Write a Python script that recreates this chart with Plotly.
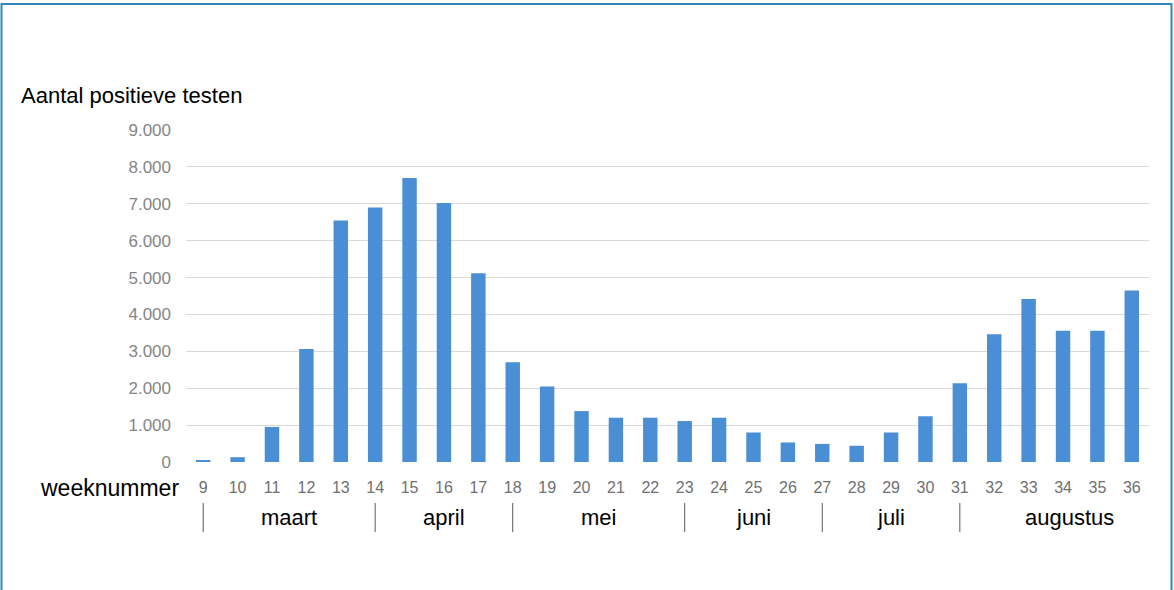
import plotly.graph_objects as go

weeks = list(range(9, 37))
positives = [50, 130, 950, 3060, 6550, 6900, 7700, 7020, 5120, 2705, 2050, 1380,
             1200, 1200, 1110, 1200, 800, 530, 490, 440, 800, 1240, 2135, 3465,
             4420, 3560, 3560, 4650]
y_ticks = [0, 1000, 2000, 3000, 4000, 5000, 6000, 7000, 8000, 9000]
y_tick_labels = ["0", "1.000", "2.000", "3.000", "4.000", "5.000", "6.000",
                 "7.000", "8.000", "9.000"]
months = ["maart", "april", "mei", "juni", "juli", "augustus"]
month_centers = [11.5, 16, 20.5, 25, 29, 34.2]
month_starts = [9, 14, 18, 23, 27, 31]

W, H = 1174, 590
L, R, T, B = 186, 25, 130, 128
PW, PH = W - L - R, H - T - B


def px(xp):
    return (xp - L) / PW


def py(yp):
    return (H - B - yp) / PH


fig = go.Figure()
fig.add_trace(go.Bar(x=weeks, y=positives, marker=dict(color="#4a8fd6", line=dict(width=0)),
                     hoverinfo="x+y"))

shapes = []
# outer frame
shapes.append(dict(type="rect", xref="paper", yref="paper",
                   x0=px(1.5), x1=px(1171.5), y0=py(600), y1=py(4),
                   line=dict(color="#2f87bd", width=2), fillcolor="rgba(0,0,0,0)", layer="below"))
for m in month_starts:
    shapes.append(dict(type="line", xref="x", yref="paper", x0=m, x1=m,
                       y0=py(532), y1=py(503), line=dict(color="#595959", width=1)))

annotations = [
    dict(text="Aantal positieve testen", xref="paper", yref="paper", x=px(19), y=py(95),
         xanchor="left", yanchor="middle", showarrow=False,
         font=dict(family="Liberation Sans, Arial", size=22, color="#000000")),
    dict(text="weeknummer", xref="paper", yref="paper", x=px(181), y=py(488),
         xanchor="right", yanchor="middle", showarrow=False,
         font=dict(family="Liberation Sans, Arial", size=23, color="#000000")),
]
for name, c in zip(months, month_centers):
    annotations.append(dict(text=name, xref="x", yref="paper", x=c, y=py(517),
                            xanchor="center", yanchor="middle", showarrow=False,
                            font=dict(family="Liberation Sans, Arial", size=22, color="#000000")))

fig.update_layout(
    width=W, height=H,
    margin=dict(l=L, r=R, t=T, b=B, pad=0),
    plot_bgcolor="white", paper_bgcolor="white",
    showlegend=False,
    bargap=0.58,
    shapes=shapes,
    annotations=annotations,
    xaxis=dict(range=[8.5, 36.5], tickmode="array", tickvals=weeks,
               ticktext=[str(w) for w in weeks], showgrid=False, zeroline=False,
               showline=False, ticks="", ticklabelstandoff=14,
               tickfont=dict(family="Liberation Sans, Arial", size=16, color="#707070")),
    yaxis=dict(range=[0, 9000], tickmode="array", tickvals=y_ticks, ticktext=y_tick_labels,
               showgrid=True, gridcolor="#d9d9d9", gridwidth=1, zeroline=False,
               showline=False, ticks="", ticklabelstandoff=14,
               tickfont=dict(family="Liberation Sans, Arial", size=17, color="#858585")),
    font=dict(family="Liberation Sans, Arial"),
)

fig.write_html("out.html", config={"displayModeBar": False},
               post_script="document.body.style.margin='0';")
